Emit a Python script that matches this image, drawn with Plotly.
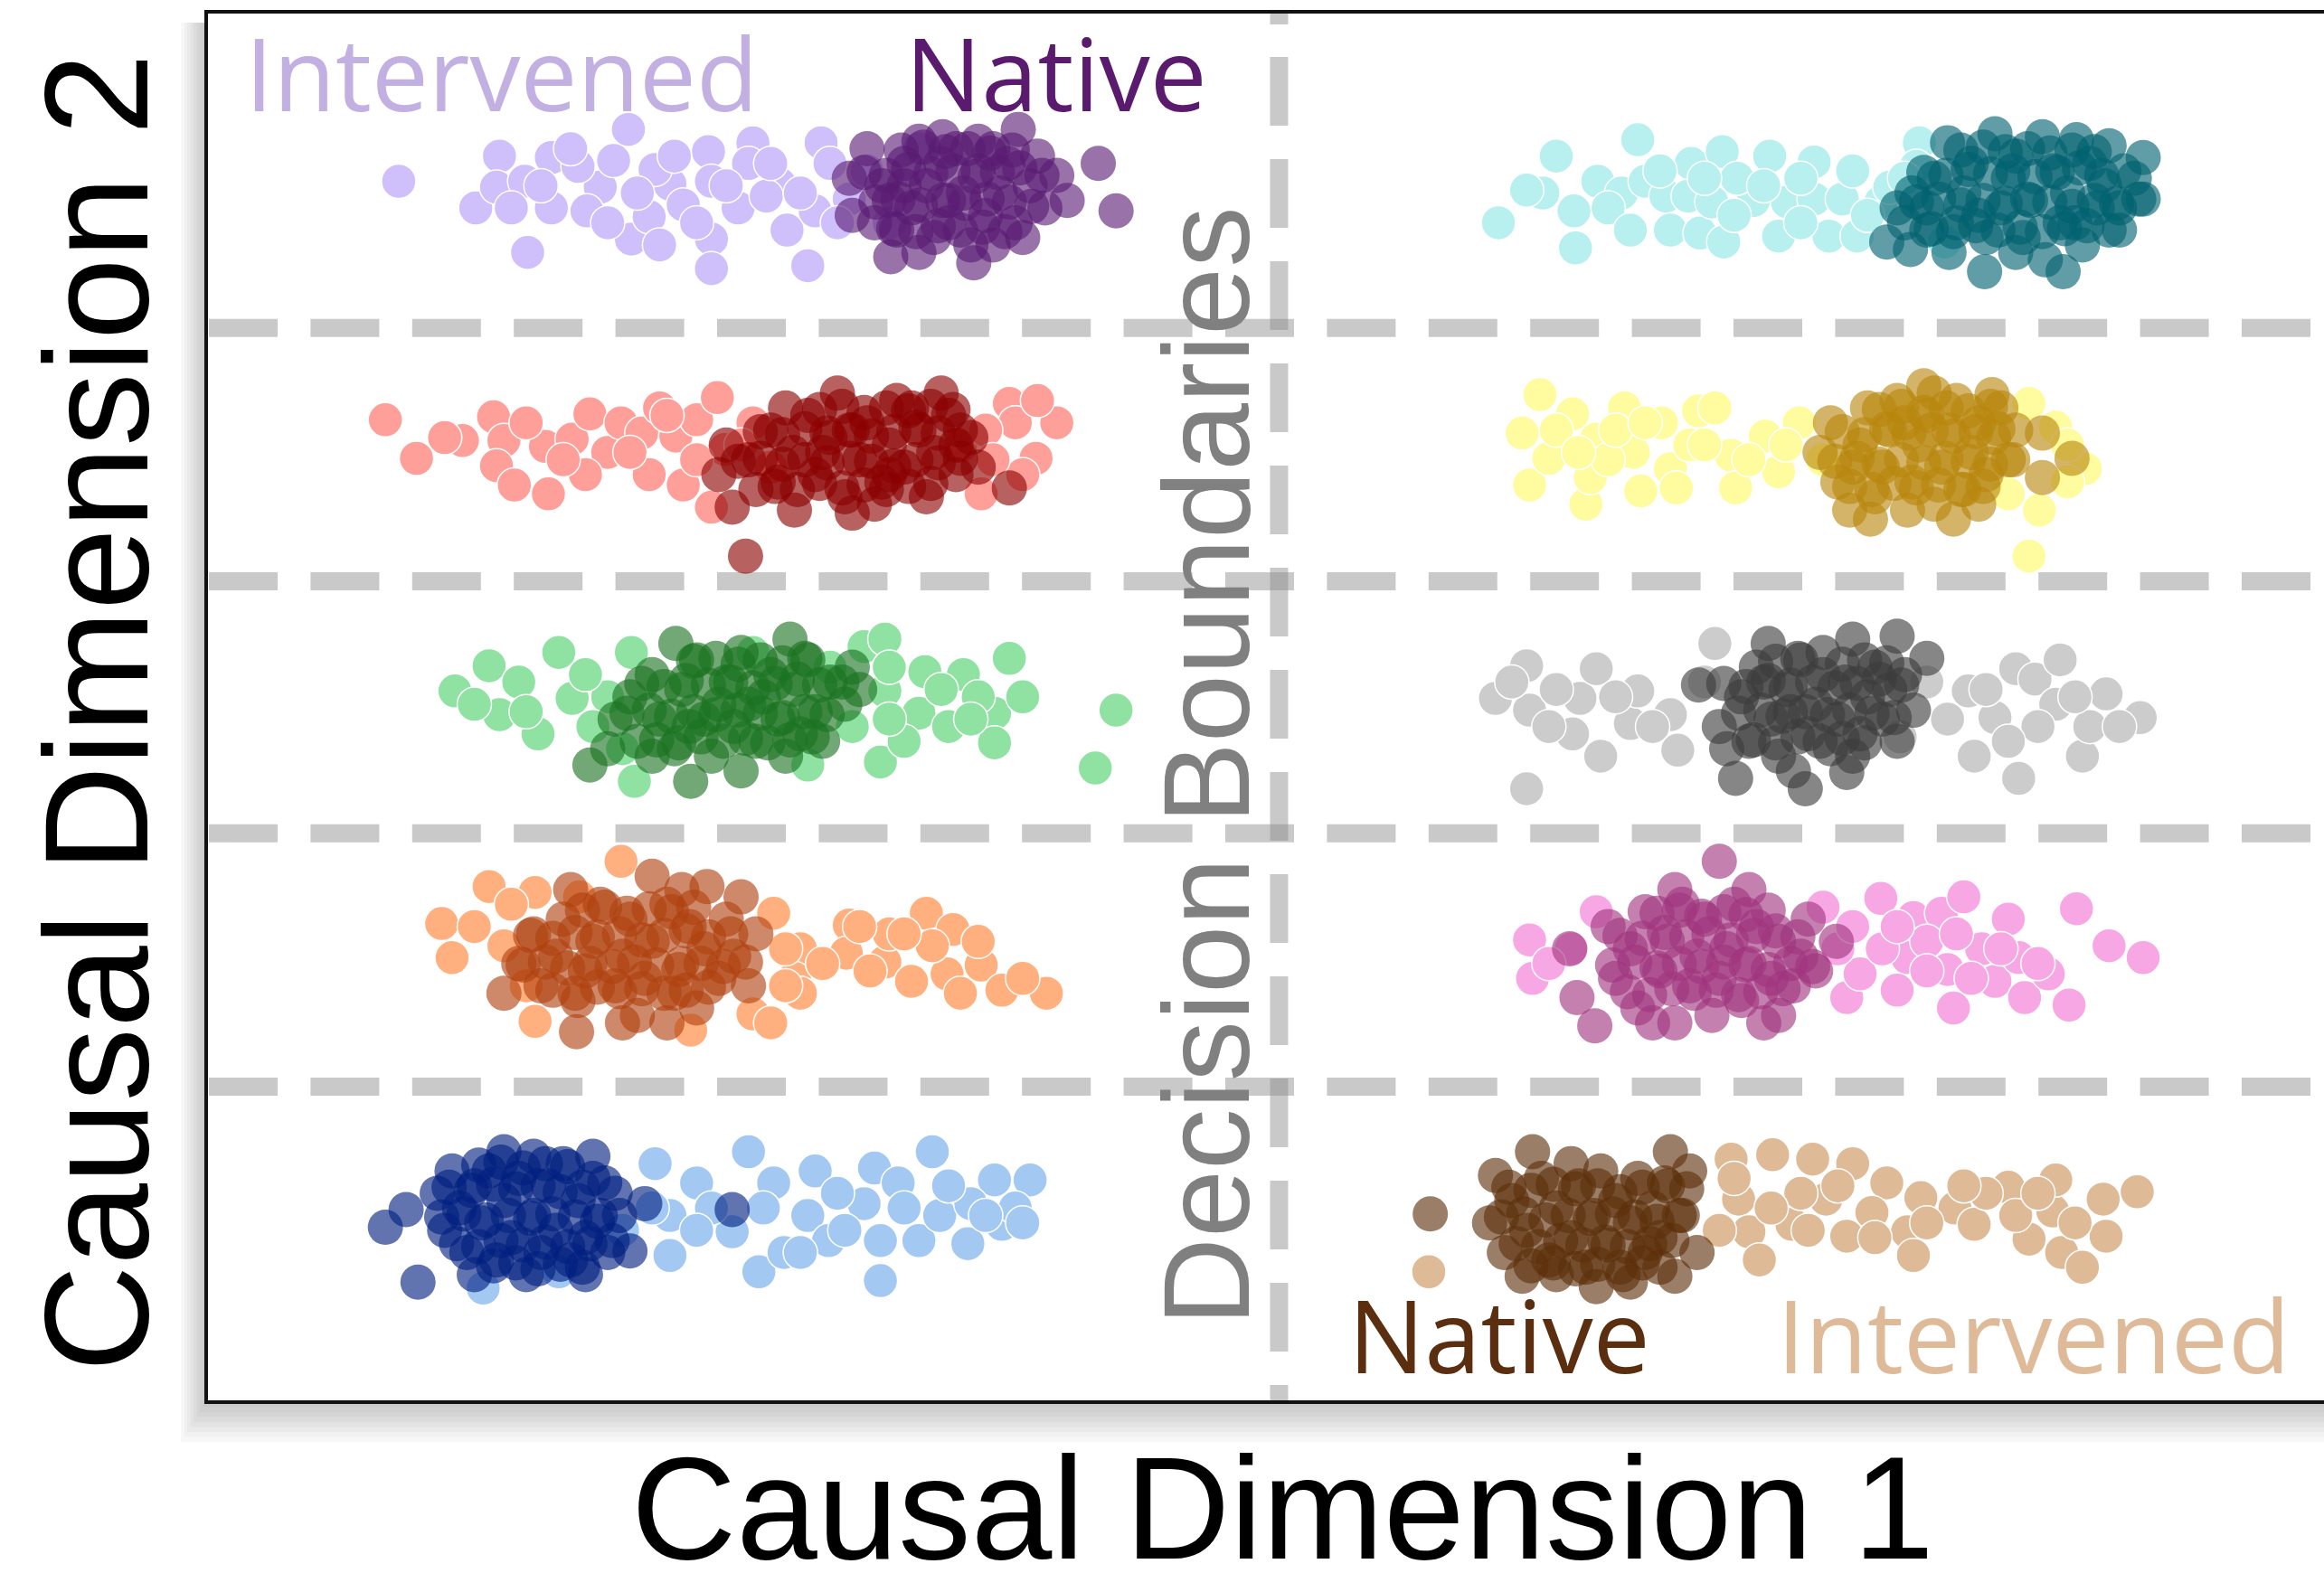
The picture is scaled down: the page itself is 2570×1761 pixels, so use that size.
import plotly.graph_objects as go

# ---------------- canvas / layout constants ----------------
W, H = 2570, 1761
ML, MT, MB = 228, 13, 210
PW = W - ML
PH = H - MT - MB

X_RANGE = [-7.239, 7.050]
Y_RANGE = [0.0, 9.384]
BOUNDARY_X = [0.0]
BOUNDARY_Y = [2.13, 3.84, 5.54, 7.25]

# ---------------- data ----------------
# Row 5, left: Intervened (lavender) / Native (purple)
lav_x = [-5.94,-5.26,-5.42,-5.28,-4.91,-4.91,-5.09,-5.07,-4.58,-4.49,-4.39,-4.37,-4.25,-4.11,-4.02,-3.85,-3.83,-3.83,-3.83,-3.55,-3.58,-3.65,-3.37,-3.32,-3.18,-3.09,-3.13,-2.90,-4.67,-4.21,-3.46,-4.73,-3.93,-2.78,-2.63,-2.43,
         -5.18,-4.98,-4.78,-4.53,-4.33,-4.08,-3.73,-3.43,-3.23,-2.98,-3.03,-4.18]
lav_y = [8.24,8.41,8.06,8.20,8.40,8.06,8.24,7.76,8.20,8.38,8.59,7.85,8.00,8.22,8.08,8.44,8.24,7.85,7.65,8.50,8.36,8.06,8.22,7.91,7.67,8.50,8.04,8.12,8.04,8.32,8.14,8.34,7.96,8.31,7.96,8.46,
         8.06,8.21,8.46,7.96,8.16,8.41,8.21,8.36,8.16,7.96,8.36,7.81]
pur_x = [-1.76,-1.22,-1.10,-1.50,-2.27,-2.90,-2.88,-2.62,-2.06,-2.43,-1.73,-1.58,-2.78,-2.03,-1.63,-2.68,-2.53,-2.48,-2.38,-2.28,-2.23,-2.13,-2.03,-1.98,-1.88,-1.83,-1.78,-1.68,-2.58,-2.33,-2.18,-2.08,-1.93,-2.73,-2.43,-2.63,-1.93,-2.23,-2.53,-1.43,
         -2.80,-2.65,-2.50,-2.35,-2.20,-2.05,-1.90,-1.75,-1.60,-2.72,-2.57,-2.42,-2.27,-2.12,-1.97,-1.82,-1.67,-2.60,-2.45,-2.30,-2.15,-2.00,-1.85,-2.55,-2.40,-2.25,-2.10,-1.95,-1.80]
pur_y = [8.59,8.36,8.04,8.28,8.54,8.26,8.01,7.73,7.69,7.76,7.86,8.06,8.46,8.51,8.41,8.21,8.36,8.06,8.21,8.36,7.96,8.16,8.31,8.01,8.16,8.36,7.96,8.21,7.91,7.86,8.46,7.81,7.81,7.96,8.51,8.11,8.46,8.11,8.21,8.11,
         8.30,8.28,8.32,8.29,8.31,8.27,8.30,8.33,8.28,8.10,8.12,8.08,8.11,8.09,8.12,8.10,8.07,7.92,7.90,7.94,7.91,7.93,7.90,8.45,8.47,8.44,8.46,8.43,8.45]

# Row 5, right: cyan / teal
cya_x = [1.48,1.87,2.00,1.99,1.78,2.15,2.31,2.42,2.47,2.61,2.64,2.78,2.76,2.84,2.92,2.99,3.00,3.20,3.31,3.37,3.43,3.61,3.61,3.71,3.80,3.90,4.06,4.12,4.32,4.30,4.49,1.67,3.09,3.52,
         2.22,2.57,2.87,3.07,3.27,3.52,3.87,3.97,4.22,2.37]
cya_y = [7.96,8.41,7.79,8.04,8.16,8.24,8.16,8.52,8.24,8.14,7.91,8.36,8.14,7.89,8.10,8.44,7.83,8.11,8.41,7.87,8.10,8.37,8.12,7.87,8.12,7.87,8.10,8.20,8.50,8.34,7.83,8.18,8.26,7.96,
         8.06,8.31,8.26,8.01,8.21,8.26,8.31,8.01,8.26,7.91]
tea_x = [4.10,4.26,4.37,4.42,4.51,4.57,4.62,4.67,4.76,4.77,4.83,4.87,4.92,4.97,5.02,5.07,5.15,5.17,5.22,5.27,5.29,5.32,5.38,5.42,5.47,5.52,5.57,5.60,5.67,5.77,5.83,5.83,4.52,4.72,4.97,5.37,4.22,5.67,4.27,4.37,4.17,
         4.35,4.50,4.65,4.80,4.95,5.10,5.25,5.40,5.55,5.70,4.30,4.45,4.60,4.75,4.90,5.05,5.20,5.35,5.50,5.65,5.80,
         4.40,4.55,4.70,4.85,5.00,5.15,5.30,5.45,5.60,4.60,4.75,4.90,5.05,5.20,5.35,5.50]
tea_y = [7.83,7.78,8.06,8.26,8.50,7.96,8.16,8.36,7.63,7.86,8.56,8.06,8.26,8.41,7.86,8.11,8.54,7.71,8.31,7.96,7.63,8.16,8.52,7.81,8.36,8.06,8.21,8.48,7.91,8.26,8.40,8.12,7.76,8.01,7.76,7.96,7.96,8.06,8.16,7.91,8.06,
         8.30,8.28,8.32,8.29,8.31,8.27,8.30,8.33,8.28,8.31,8.10,8.12,8.08,8.11,8.09,8.12,8.10,8.07,8.11,8.09,8.12,
         7.92,7.90,7.94,7.91,7.93,7.90,7.92,7.94,7.91,8.45,8.47,8.44,8.46,8.43,8.45,8.44]

# Row 4, left: salmon / dark red
sal_x = [-6.03,-5.82,-5.51,-5.30,-5.23,-5.28,-5.16,-4.95,-4.93,-4.77,-4.65,-4.53,-4.44,-4.30,-4.25,-4.07,-4.02,-3.93,-3.79,-3.74,-3.83,-3.55,-3.43,-2.01,-1.82,-1.78,-1.50,-1.64,-2.15,-1.98,-1.73,-4.68,-4.18,
         -5.63,-5.08,-4.83,-4.38,-4.13,-3.63,-3.93,-1.63,-1.93]
sal_y = [6.63,6.37,6.49,6.65,6.49,6.32,6.19,6.45,6.13,6.50,6.67,6.41,6.61,6.54,6.26,6.52,6.19,6.63,6.78,6.43,6.04,6.61,6.31,6.13,6.74,6.61,6.61,6.37,6.45,6.56,6.26,6.26,6.71,
         6.51,6.61,6.36,6.41,6.66,6.46,6.36,6.76,6.36]
red_x = [-3.60,-1.82,-3.69,-3.27,-2.88,-3.78,-3.73,-3.58,-3.43,-3.38,-3.28,-3.18,-3.13,-3.03,-2.98,-2.93,-2.83,-2.78,-2.68,-2.63,-2.58,-2.53,-2.43,-2.38,-2.33,-2.23,-2.18,-2.08,-2.03,-2.73,-2.48,-2.88,-3.08,-2.28,-3.53,-2.63,-2.18,-3.33,
         -3.50,-3.35,-3.20,-3.05,-2.90,-2.75,-2.60,-2.45,-2.30,-2.15,-3.65,-3.50,-3.35,-3.20,-3.05,-2.90,-2.75,-2.60,-2.45,-2.30,-2.15,
         -3.40,-3.25,-3.10,-2.95,-2.80,-2.65,-2.50,-2.35,-3.10,-2.95,-2.80,-2.65,-2.50,-2.35,-2.20]
red_y = [5.71,6.17,6.04,6.02,6.00,6.26,6.46,6.36,6.56,6.21,6.41,6.66,6.26,6.51,6.81,6.11,6.36,6.61,6.21,6.46,6.76,6.31,6.56,6.11,6.41,6.66,6.26,6.51,6.31,6.06,6.71,6.56,6.41,6.81,6.16,6.26,6.46,6.71,
         6.55,6.53,6.57,6.54,6.56,6.52,6.55,6.58,6.54,6.56,6.35,6.37,6.33,6.36,6.34,6.37,6.35,6.32,6.36,6.34,6.37,
         6.18,6.16,6.20,6.17,6.19,6.16,6.18,6.20,6.70,6.72,6.68,6.71,6.69,6.72,6.70]

# Row 4, right: yellow / goldenrod
yel_x = [1.76,1.64,1.69,1.82,1.98,2.07,2.10,2.14,2.33,2.39,2.44,2.58,2.64,2.68,2.83,2.94,3.05,3.08,3.28,3.37,3.51,5.06,5.13,5.06,5.24,5.44,4.92,2.22,2.77,3.67,5.32,
         1.87,2.27,2.47,2.87,3.17,3.42,2.02,5.32]
yel_y = [6.80,6.54,6.19,6.37,6.67,6.06,6.24,6.50,6.71,6.41,6.15,6.61,6.30,6.17,6.69,6.71,6.39,6.17,6.52,6.28,6.61,5.71,6.02,6.74,6.58,6.30,6.13,6.36,6.46,6.36,6.46,
         6.56,6.56,6.61,6.46,6.36,6.46,6.41,6.21]
gol_x = [3.85,4.35,4.81,5.15,5.35,3.65,5.15,4.24,3.72,3.77,3.92,3.97,4.02,4.07,4.12,4.17,4.27,4.32,4.37,4.42,4.47,4.52,4.57,4.62,4.67,4.72,4.77,4.82,4.87,4.92,3.99,4.55,4.22,4.42,4.72,4.97,3.87,
         3.80,3.95,4.10,4.25,4.40,4.55,4.70,4.85,3.75,3.90,4.05,4.20,4.35,4.50,4.65,4.80,4.95,
         3.85,4.00,4.15,4.30,4.45,4.60,4.75,4.05,4.20,4.35,4.50,4.65,4.80]
gol_y = [6.02,6.86,6.80,6.54,6.37,6.41,6.24,6.02,6.61,6.21,6.46,6.71,6.11,6.31,6.56,6.76,6.21,6.46,6.66,6.06,6.31,6.56,6.76,6.16,6.41,6.61,6.26,6.51,6.71,6.36,5.96,5.96,6.61,6.81,6.06,6.56,6.31,
         6.55,6.53,6.57,6.54,6.56,6.52,6.55,6.57,6.35,6.37,6.33,6.36,6.34,6.37,6.35,6.33,6.36,
         6.18,6.16,6.20,6.17,6.19,6.16,6.18,6.70,6.72,6.68,6.71,6.69,6.72]

# Row 3, left: light green / dark green
grn_x = [-5.56,-5.33,-5.26,-5.00,-4.86,-4.77,-4.37,-4.53,-4.35,-4.63,-3.55,-3.18,-2.80,-2.66,-2.69,-2.66,-2.43,-2.39,-2.13,-1.82,-1.92,-1.92,-2.23,-1.10,-1.24,-3.03,-2.53,-5.13,-2.03,-4.43,-2.88,
         -5.43,-5.08,-4.68,-2.63,-2.28,-2.08,-2.63,-1.73]
grn_y = [4.80,4.97,4.64,4.51,5.06,4.75,5.06,4.76,4.19,4.56,5.06,4.30,5.10,5.15,4.32,4.80,4.65,4.93,4.91,5.02,4.65,4.45,4.56,4.67,4.28,4.96,4.46,4.86,4.76,4.41,4.56,
         4.71,4.66,4.91,4.96,4.81,4.61,4.61,4.76]
dgr_x = [-4.65,-3.97,-3.30,-4.07,-4.48,-4.38,-4.33,-4.23,-4.18,-4.08,-4.03,-3.93,-3.88,-3.83,-3.73,-3.68,-3.63,-3.58,-3.53,-3.43,-3.38,-3.33,-3.28,-3.18,-3.13,-3.08,-3.03,-2.93,-2.88,-3.63,-4.23,-3.78,-3.48,-3.23,-3.98,-4.53,-2.83,
         -4.30,-4.15,-4.00,-3.85,-3.70,-3.55,-3.40,-3.25,-3.10,-2.95,-4.40,-4.25,-4.10,-3.95,-3.80,-3.65,-3.50,-3.35,-3.20,-3.05,
         -4.20,-4.05,-3.90,-3.75,-3.60,-3.45,-3.30,-3.15,-3.95,-3.80,-3.65,-3.50,-3.35,-3.20]
dgr_y = [4.30,4.19,5.15,5.12,4.61,4.76,4.46,4.91,4.61,4.41,4.81,5.01,4.61,4.36,4.86,4.56,5.06,4.71,4.46,4.91,4.61,4.36,4.81,5.01,4.66,4.46,4.86,4.71,4.96,4.26,4.36,4.71,4.76,4.51,4.56,4.41,4.81,
         4.85,4.83,4.87,4.84,4.86,4.82,4.85,4.88,4.84,4.86,4.65,4.67,4.63,4.66,4.64,4.67,4.65,4.62,4.66,4.64,
         4.47,4.45,4.49,4.46,4.48,4.45,4.47,4.49,5.00,5.02,4.98,5.01,4.99,5.02]

# Row 3, right: light gray / dark gray
lgy_x = [1.46,1.67,1.69,1.67,1.98,2.03,2.14,2.37,2.42,2.69,2.64,2.94,2.17,4.65,4.69,4.97,4.99,5.10,5.24,5.42,5.47,5.58,5.81,4.83,4.51,4.19,4.37,1.82,2.87,5.27,
         1.57,1.87,2.27,2.52,4.77,5.12,5.37,5.67,4.92]
lgy_y = [4.75,4.97,4.67,4.14,4.51,4.75,4.95,4.58,4.80,4.40,4.64,5.12,4.36,4.80,4.36,4.95,4.21,4.88,4.71,4.36,4.56,4.78,4.62,4.62,4.61,4.49,4.86,4.56,4.86,5.01,
         4.86,4.81,4.76,4.56,4.81,4.56,4.76,4.56,4.46]
dgy_x = [3.08,3.55,3.83,4.17,3.87,3.30,2.83,4.37,4.28,2.97,3.12,3.17,3.22,3.32,3.37,3.42,3.52,3.57,3.62,3.67,3.72,3.77,3.82,3.92,3.97,4.02,4.07,4.12,4.22,3.47,3.27,3.87,3.02,3.67,3.45,4.17,
         3.00,3.15,3.30,3.45,3.60,3.75,3.90,4.05,4.20,3.10,3.25,3.40,3.55,3.70,3.85,4.00,4.15,
         3.20,3.35,3.50,3.65,3.80,3.95,3.35,3.50,3.80,3.95,4.10]
dgy_y = [4.21,4.14,4.25,5.17,5.15,5.12,4.84,5.02,4.67,4.56,4.76,4.46,4.96,4.61,4.36,4.81,5.01,4.51,4.71,4.91,4.41,4.61,4.86,4.51,4.76,4.96,4.61,4.81,4.91,4.26,4.86,4.36,4.41,5.06,4.66,4.46,
         4.85,4.83,4.87,4.84,4.86,4.82,4.85,4.88,4.84,4.65,4.67,4.63,4.66,4.64,4.67,4.65,4.62,
         4.47,4.45,4.49,4.46,4.48,4.45,5.00,5.02,4.98,5.01,4.99]

# Row 2, left: light orange / rust
org_x = [-5.65,-5.58,-5.33,-5.02,-4.72,-4.44,-5.02,-5.23,-3.97,-3.55,-3.41,-3.23,-3.27,-3.23,-2.90,-2.92,-2.66,-2.38,-2.20,-2.48,-2.24,-2.01,-1.87,-1.57,-2.15,-2.34,-2.76,-3.43,-5.08,-2.63,
         -5.43,-5.18,-3.33,-3.08,-3.33,-2.53,-2.03,-1.73,-2.83]
org_y = [3.23,3.00,3.48,3.44,3.41,3.65,2.57,3.08,2.51,2.62,3.30,3.06,2.86,2.76,3.22,3.03,2.97,3.30,3.19,2.84,2.89,2.95,2.78,2.76,2.76,3.08,2.91,2.56,2.81,3.16,
         3.21,3.36,3.06,2.96,2.81,3.16,3.11,2.86,3.21]
rus_x = [-4.74,-5.23,-4.23,-3.86,-5.13,-5.03,-4.98,-4.88,-4.83,-4.73,-4.68,-4.63,-4.58,-4.48,-4.43,-4.38,-4.33,-4.28,-4.23,-4.13,-4.08,-4.03,-3.98,-3.93,-3.88,-3.78,-3.73,-3.68,-3.58,-3.53,-4.13,-4.43,-3.63,-4.78,-4.03,
         -5.05,-4.90,-4.75,-4.60,-4.45,-4.30,-4.15,-4.00,-3.85,-3.70,-5.10,-4.95,-4.80,-4.65,-4.50,-4.35,-4.20,-4.05,-3.90,-3.75,-3.60,
         -4.90,-4.75,-4.60,-4.45,-4.30,-4.15,-4.00,-3.85,-4.70,-4.55,-4.40,-4.25,-4.10,-3.95]
rus_y = [2.50,2.76,3.55,3.48,2.96,3.16,2.81,3.01,3.26,2.71,2.91,3.11,3.36,2.81,3.01,3.26,2.61,2.86,3.11,3.36,2.76,2.96,3.21,2.66,3.06,2.86,3.26,3.01,2.81,3.16,2.56,2.56,3.41,3.46,3.46,
         3.15,3.13,3.17,3.14,3.16,3.12,3.15,3.18,3.14,3.16,2.95,2.97,2.93,2.96,2.94,2.97,2.95,2.92,2.96,2.94,2.97,
         2.78,2.76,2.80,2.77,2.79,2.76,2.78,2.80,3.32,3.34,3.30,3.33,3.31,3.34]

# Row 2, right: pink / magenta
pnk_x = [1.69,1.71,2.14,3.67,3.83,4.06,4.28,4.47,4.62,4.24,4.51,4.74,4.83,4.99,5.03,5.33,5.38,5.60,5.83,3.92,4.17,4.37,5.19,3.77,4.92,4.55,4.07,1.97,
         3.87,4.17,4.37,4.67,4.87,5.12,4.57,1.82]
pnk_y = [3.12,2.86,3.31,3.34,2.73,3.40,3.27,3.30,3.41,3.00,2.92,3.06,2.84,3.00,2.73,2.68,3.33,3.08,3.00,2.89,2.78,3.11,2.89,3.06,3.26,2.66,3.06,3.06,
         3.21,3.21,2.91,2.86,3.06,2.96,3.16,2.96]
mag_x = [2.97,2.13,1.96,3.76,2.01,2.22,2.27,2.37,2.42,2.47,2.57,2.62,2.67,2.72,2.77,2.82,2.87,2.92,2.97,3.02,3.07,3.12,3.17,3.22,3.27,3.32,3.37,3.47,3.52,3.57,3.62,2.67,3.17,2.52,3.37,
         2.30,2.45,2.60,2.75,2.90,3.05,3.20,3.35,3.50,2.25,2.40,2.55,2.70,2.85,3.00,3.15,3.30,3.45,3.60,
         2.35,2.50,2.65,2.80,2.95,3.10,3.25,3.40,2.55,2.70,2.85,3.00,3.15,3.30]
mag_y = [3.65,2.54,3.06,3.11,2.73,3.21,2.86,3.06,2.66,3.31,2.91,3.11,2.56,3.36,2.81,3.01,3.26,2.61,2.86,3.06,3.36,2.71,2.96,3.21,2.56,2.86,3.11,2.81,3.01,3.26,2.91,3.46,3.46,2.56,2.61,
         3.15,3.13,3.17,3.14,3.16,3.12,3.15,3.18,3.14,2.95,2.97,2.93,2.96,2.94,2.97,2.95,2.92,2.96,2.94,
         2.77,2.75,2.79,2.76,2.78,2.75,2.77,2.79,3.30,3.32,3.28,3.31,3.29,3.32]

# Row 1, left: light blue / navy
lbl_x = [-5.37,-4.86,-4.21,-4.11,-4.11,-3.93,-3.69,-3.58,-3.51,-3.41,-3.34,-3.18,-3.13,-3.04,-2.73,-2.80,-2.69,-2.69,-2.43,-2.34,-2.29,-2.10,-1.92,-1.87,-1.68,-1.78,-2.57,-2.08,-3.83,-4.43,-2.98,
         -4.23,-3.93,-3.48,-3.23,-2.93,-2.53,-2.23,-1.98,-1.73]
lbl_y = [0.77,0.88,1.61,0.99,1.26,1.48,1.15,1.69,0.88,1.48,1.01,1.26,1.56,1.09,1.58,1.34,0.82,1.09,1.09,1.69,1.26,1.07,1.50,1.20,1.50,1.31,1.48,1.34,1.31,1.16,1.41,
         1.31,1.16,1.31,1.01,1.16,1.31,1.46,1.26,1.21]
nav_x = [-5.81,-6.03,-5.89,-3.69,-4.28,-4.38,-5.23,-5.68,-5.63,-5.58,-5.53,-5.48,-5.43,-5.38,-5.33,-5.28,-5.23,-5.18,-5.13,-5.08,-5.03,-4.98,-4.93,-4.88,-4.83,-4.78,-4.73,-4.68,-4.63,-4.58,-4.53,-4.48,-5.03,-5.43,-4.68,-4.63,
         -5.60,-5.45,-5.30,-5.15,-5.00,-4.85,-4.70,-4.55,-5.65,-5.50,-5.35,-5.20,-5.05,-4.90,-4.75,-4.60,-4.45,
         -5.55,-5.40,-5.25,-5.10,-4.95,-4.80,-4.65,-4.50,-5.40,-5.25,-5.10,-4.95,-4.80,-5.30,-5.15,-5.00,-4.85,-4.70]
nav_y = [0.81,1.18,1.30,1.30,1.34,1.02,1.69,1.41,1.16,1.56,1.31,1.01,1.46,1.21,1.56,0.96,1.36,1.11,1.51,0.86,1.26,1.01,1.46,1.16,1.61,0.96,1.36,1.11,1.51,1.26,1.01,1.41,1.66,0.86,0.86,1.66,
         1.45,1.43,1.47,1.44,1.46,1.42,1.45,1.48,1.25,1.27,1.23,1.26,1.24,1.27,1.25,1.22,1.26,
         1.07,1.05,1.09,1.06,1.08,1.05,1.07,1.09,1.60,1.62,1.58,1.61,1.59,0.92,0.94,0.90,0.93,0.91]

# Row 1, right: tan / brown
tan_x = [1.01,3.05,3.33,3.10,3.17,3.24,3.46,3.60,3.69,3.87,3.83,4.10,4.24,4.28,4.33,4.56,4.69,4.92,5.06,5.22,5.24,5.28,5.42,5.56,5.58,5.79,4.00,4.77,3.52,4.97,
         3.07,3.32,3.57,3.77,4.02,4.37,4.62,5.12,5.37,2.97]
tan_y = [0.88,1.64,1.67,1.37,1.15,0.96,1.20,1.64,1.37,1.61,1.12,1.48,1.15,0.99,1.38,1.31,1.20,1.45,1.10,1.29,1.50,1.01,0.91,1.37,1.12,1.42,1.28,1.41,1.41,1.26,
         1.51,1.31,1.16,1.46,1.11,1.21,1.46,1.41,1.21,1.16]
brn_x = [1.02,1.71,2.64,2.14,1.64,2.67,1.46,1.42,1.52,1.57,1.67,1.77,1.82,1.87,1.97,2.02,2.07,2.12,2.17,2.22,2.27,2.32,2.37,2.42,2.47,2.52,2.57,2.62,2.72,2.77,2.82,1.97,2.37,1.87,2.57,
         1.55,1.70,1.85,2.00,2.15,2.30,2.45,2.60,2.75,1.50,1.65,1.80,1.95,2.10,2.25,2.40,2.55,2.70,
         1.60,1.75,1.90,2.05,2.20,2.35,2.50,2.65,1.70,1.85,2.00,2.15,2.30,2.45]
brn_y = [1.27,1.69,1.69,0.78,0.85,0.85,1.53,1.21,1.01,1.36,1.16,1.51,0.96,1.31,1.11,1.46,0.91,1.26,1.56,1.06,1.36,0.86,1.21,1.51,1.01,1.31,1.11,1.46,1.26,1.56,1.01,1.61,0.81,0.86,0.91,
         1.45,1.43,1.47,1.44,1.46,1.42,1.45,1.48,1.44,1.25,1.27,1.23,1.26,1.24,1.27,1.25,1.22,1.26,
         1.07,1.05,1.09,1.06,1.08,1.05,1.07,1.09,0.92,0.94,0.90,0.93,0.91,0.94]

# (name, x, y, colour)
intervened = [
    ("Intervened A", lav_x, lav_y, "#CFBFFA"),
    ("Intervened B", cya_x, cya_y, "#B7F0EF"),
    ("Intervened C", sal_x, sal_y, "#FF9F99"),
    ("Intervened D", yel_x, yel_y, "#FFFCA0"),
    ("Intervened E", grn_x, grn_y, "#8FE2A1"),
    ("Intervened F", lgy_x, lgy_y, "#CCCCCC"),
    ("Intervened G", org_x, org_y, "#FFB07E"),
    ("Intervened H", pnk_x, pnk_y, "#F7A8E4"),
    ("Intervened I", lbl_x, lbl_y, "#A3C8F2"),
    ("Intervened J", tan_x, tan_y, "#DEBA96"),
]
native = [
    ("Native A", pur_x, pur_y, "#591C72"),
    ("Native B", tea_x, tea_y, "#00616F"),
    ("Native C", red_x, red_y, "#8B0000"),
    ("Native D", gol_x, gol_y, "#B8860B"),
    ("Native E", dgr_x, dgr_y, "#1A7320"),
    ("Native F", dgy_x, dgy_y, "#3C3C3C"),
    ("Native G", rus_x, rus_y, "#B0410E"),
    ("Native H", mag_x, mag_y, "#A0337E"),
    ("Native I", nav_x, nav_y, "#001E80"),
    ("Native J", brn_x, brn_y, "#5C2E0A"),
]

fig = go.Figure()
for name, xs, ys, col in intervened:
    fig.add_trace(go.Scatter(x=xs, y=ys, mode="markers", name=name, showlegend=False,
                             marker=dict(size=38, color=col, opacity=1.0,
                                         line=dict(width=1.5, color="white"))))
for name, xs, ys, col in native:
    fig.add_trace(go.Scatter(x=xs, y=ys, mode="markers", name=name, showlegend=False,
                             marker=dict(size=39, color=col, opacity=0.62,
                                         line=dict(width=0))))


def pxx(px):
    return (px - ML) / PW


def pxy(py):
    return (H - MB - py) / PH


shapes = []
# soft drop shadow around frame
for k in range(1, 9):
    shapes.append(dict(type="rect", xref="paper", yref="paper", layer="below",
                       x0=pxx(ML - 3.5 * k), x1=1.05, y0=pxy(H - MB + 5.5 * k), y1=pxy(MT + 12),
                       fillcolor="rgba(0,0,0,0.028)", line=dict(width=0)))
# white plotting panel
shapes.append(dict(type="rect", xref="paper", yref="paper", layer="below",
                   x0=0, x1=1.05, y0=0, y1=1, fillcolor="white", line=dict(width=0)))
# decision boundaries (dashed)
dash_col = "rgba(138,138,138,0.46)"
for yb in BOUNDARY_Y:
    shapes.append(dict(type="line", xref="paper", yref="y", layer="below",
                       x0=pxx(231), x1=1.0, y0=yb, y1=yb,
                       line=dict(color=dash_col, width=20, dash="76px,36.4px")))
for xb in BOUNDARY_X:
    xp = (xb - X_RANGE[0]) / (X_RANGE[1] - X_RANGE[0])
    shapes.append(dict(type="line", xref="paper", yref="paper", layer="below",
                       x0=xp, x1=xp, y0=pxy(63), y1=0,
                       line=dict(color=dash_col, width=20, dash="76px,37px")))
    shapes.append(dict(type="line", xref="paper", yref="paper", layer="below",
                       x0=xp, x1=xp, y0=1.0, y1=pxy(27),
                       line=dict(color=dash_col, width=20)))
# frame
shapes.append(dict(type="rect", xref="paper", yref="paper", layer="above",
                   x0=0, x1=1.02, y0=0, y1=1, fillcolor="rgba(0,0,0,0)",
                   line=dict(color="#111111", width=4)))

LAB_FONT = "Open Sans, sans-serif"
AX_FONT = "Liberation Sans, Arial, Helvetica, sans-serif"
annotations = [
    dict(text="Intervened", x=pxx(269), y=pxy(79), xanchor="left", yanchor="middle",
         font=dict(family=LAB_FONT, size=112, color="#C2B0E2")),
    dict(text="Native", x=pxx(999), y=pxy(79), xanchor="left", yanchor="middle",
         font=dict(family=LAB_FONT, size=112, color="#5A1A6E")),
    dict(text="Native", x=pxx(1489), y=pxy(1475), xanchor="left", yanchor="middle",
         font=dict(family=LAB_FONT, size=112, color="#5A2E0E")),
    dict(text="Intervened", x=pxx(1963), y=pxy(1475), xanchor="left", yanchor="middle",
         font=dict(family=LAB_FONT, size=112, color="#DEBA98")),
    dict(text="Decision Boundaries", x=pxx(1333.5), y=pxy(848), textangle=-90,
         xanchor="center", yanchor="middle",
         font=dict(family=AX_FONT, size=135, color="#808080")),
    dict(text="Causal Dimension 2", x=pxx(105.5), y=pxy(788), textangle=-90,
         xanchor="center", yanchor="middle",
         font=dict(family=AX_FONT, size=163, color="black")),
    dict(text="Causal Dimension 1", x=pxx(1418), y=pxy(1668),
         xanchor="center", yanchor="middle",
         font=dict(family=AX_FONT, size=161, color="black")),
]
for a in annotations:
    a.update(xref="paper", yref="paper", showarrow=False)

fig.update_layout(
    width=W, height=H,
    margin=dict(l=ML, r=0, t=MT, b=MB, pad=0),
    paper_bgcolor="white",
    plot_bgcolor="rgba(0,0,0,0)",
    showlegend=False,
    xaxis=dict(range=X_RANGE, visible=False, showgrid=False, zeroline=False, fixedrange=True),
    yaxis=dict(range=Y_RANGE, visible=False, showgrid=False, zeroline=False, fixedrange=True),
    shapes=shapes,
    annotations=annotations,
)

fig.write_html("out.html", config={"displayModeBar": False})
